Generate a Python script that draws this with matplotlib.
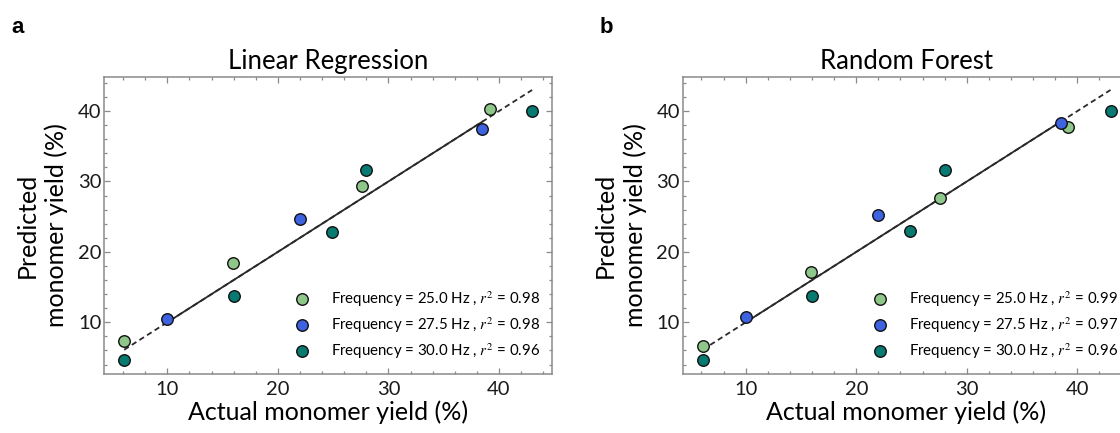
import matplotlib
matplotlib.use("Agg")
import matplotlib.pyplot as plt
from matplotlib.ticker import MultipleLocator
import numpy as np

plt.rcParams['font.family'] = ['Lato', 'DejaVu Sans']
plt.rcParams['mathtext.fontset'] = 'stix'

# Actual monomer yield (%) per frequency group
actual_25 = [6.1, 15.9, 27.6, 39.2]
actual_275 = [10.0, 22.0, 38.5]
actual_30 = [6.1, 16.0, 24.9, 28.0, 43.0]

# Predicted monomer yield (%) - linear regression
lr_25 = [7.35, 18.4, 29.4, 40.3]
lr_275 = [10.5, 24.7, 37.5]
lr_30 = [4.6, 13.7, 22.85, 31.6, 40.0]

# Predicted monomer yield (%) - random forest
rf_25 = [6.7, 17.2, 27.6, 37.8]
rf_275 = [10.8, 25.3, 38.3]
rf_30 = [4.6, 13.7, 22.9, 31.7, 40.05]

lr_r2 = [0.98, 0.98, 0.96]
rf_r2 = [0.99, 0.97, 0.96]
freqs = ["25.0", "27.5", "30.0"]
titles = ["Linear Regression", "Random Forest"]
panel_letters = ["a", "b"]

colors = ["#8fc78a", "#3d63e0", "#077a72"]

W, H = 1120, 433
fig = plt.figure(figsize=(W / 100, H / 100), dpi=100)

ax_w = 447.7 / W
ax_h = 296.4 / H
ax_b = (H - 373.7) / H
lefts = [104.3 / W, 682.7 / W]
letter_x = [11 / W, 600 / W]

panels = [
    (titles[0], [lr_25, lr_275, lr_30], lr_r2),
    (titles[1], [rf_25, rf_275, rf_30], rf_r2),
]
actuals = [actual_25, actual_275, actual_30]
all_actual = np.concatenate([np.array(a) for a in actuals])

for i, (title, preds, r2s) in enumerate(panels):
    ax = fig.add_axes([lefts[i], ax_b, ax_w, ax_h])
    xmin, xmax = all_actual.min(), all_actual.max()
    # identity line (dashed) with solid central portion
    ax.plot([xmin, xmax], [xmin, xmax], ls=(0, (3, 2)), color="#2a2a2a",
            lw=1.3, zorder=1)
    smin, smax = min(actual_275), max(actual_275)
    ax.plot([smin, smax], [smin, smax], ls="-", color="#2a2a2a",
            lw=1.3, zorder=1)
    for j in range(3):
        ax.plot(actuals[j], preds[j], ls="none", marker="o", ms=8.3,
                mfc=colors[j], mec="#111111", mew=1.0, zorder=3,
                label=f"Frequency = {freqs[j]} Hz , $r^2$ = {r2s[j]:.2f}")
    ax.set_xlim(4.3, 44.8)
    ax.set_ylim(2.7, 44.8)
    ax.xaxis.set_major_locator(MultipleLocator(10))
    ax.yaxis.set_major_locator(MultipleLocator(10))
    ax.xaxis.set_minor_locator(MultipleLocator(2))
    ax.yaxis.set_minor_locator(MultipleLocator(2))
    ax.tick_params(which="both", direction="in", top=True, right=True,
                   color="#8a8a8a", width=0.9)
    ax.tick_params(which="major", length=4, labelsize=14.5,
                   labelcolor="#1a1a1a")
    ax.tick_params(axis="y", which="major", pad=2)
    ax.tick_params(axis="x", which="major", pad=5)
    ax.tick_params(which="minor", length=2.5)
    for s in ax.spines.values():
        s.set_color("#8a8a8a")
        s.set_linewidth(1.1)
    ax.set_title(title, fontsize=18.5, pad=6)
    ax.set_xlabel("Actual monomer yield (%)", fontsize=18, labelpad=2)
    ax.set_ylabel("Predicted\nmonomer yield (%)", fontsize=18, labelpad=7,
                  linespacing=1.3)
    ax.legend(loc="lower left", bbox_to_anchor=(0.425, 0.043),
              frameon=False, fontsize=10.8, handlelength=1.0,
              handletextpad=1.4, labelspacing=0.42, borderpad=0,
              borderaxespad=0)
    fig.text(letter_x[i], 1 - 33 / H, panel_letters[i],
             fontsize=16, fontweight="bold", family="Liberation Sans")

fig.savefig("out.png", dpi=100)
